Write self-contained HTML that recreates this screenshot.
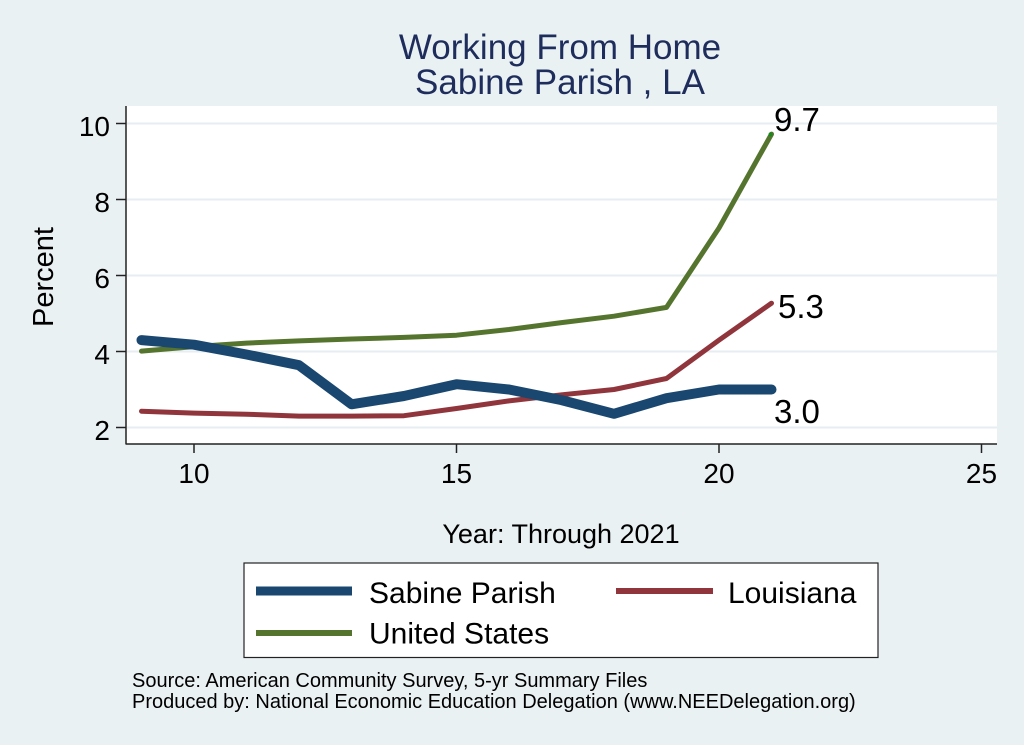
<!DOCTYPE html>
<html><head><meta charset="utf-8"><style>
html,body{margin:0;padding:0;background:#eaf1f3;}
svg{display:block;}
text{font-family:"Liberation Sans",Arial,sans-serif;}
</style></head><body>
<svg width="1024" height="745" viewBox="0 0 1024 745" xmlns="http://www.w3.org/2000/svg">
<rect x="0" y="0" width="1024" height="745" fill="#eaf1f3"/>
<!-- title -->
<text x="560" y="59" font-size="35" fill="#1e2d5c" text-anchor="middle">Working From Home</text>
<text x="560" y="94" font-size="35" fill="#1e2d5c" text-anchor="middle">Sabine Parish , LA</text>
<!-- plot region -->
<rect x="126" y="106" width="871" height="338" fill="#ffffff"/>
<g stroke="#e6eef1" stroke-width="2">
<line x1="127" y1="123.5" x2="997" y2="123.5"/>
<line x1="127" y1="199.5" x2="997" y2="199.5"/>
<line x1="127" y1="275.5" x2="997" y2="275.5"/>
<line x1="127" y1="351.5" x2="997" y2="351.5"/>
<line x1="127" y1="427.5" x2="997" y2="427.5"/>
</g>
<!-- axes -->
<g stroke="#222" stroke-width="1.5" fill="none">
<line x1="126" y1="106" x2="126" y2="444.5"/>
<line x1="126" y1="444" x2="997" y2="444"/>
<line x1="116" y1="123.5" x2="126" y2="123.5"/>
<line x1="116" y1="199.5" x2="126" y2="199.5"/>
<line x1="116" y1="275.5" x2="126" y2="275.5"/>
<line x1="116" y1="351.5" x2="126" y2="351.5"/>
<line x1="116" y1="427.5" x2="126" y2="427.5"/>
<line x1="194" y1="444" x2="194" y2="453"/>
<line x1="456.5" y1="444" x2="456.5" y2="453"/>
<line x1="719" y1="444" x2="719" y2="453"/>
<line x1="981.5" y1="444" x2="981.5" y2="453"/>
</g>
<g font-size="28" fill="#000" text-anchor="end">
<text x="110" y="136">10</text>
<text x="110" y="212">8</text>
<text x="110" y="288">6</text>
<text x="110" y="364">4</text>
<text x="110" y="440">2</text>
</g>
<g font-size="28" fill="#000" text-anchor="middle">
<text x="194" y="483">10</text>
<text x="456.5" y="483">15</text>
<text x="719" y="483">20</text>
<text x="981.5" y="483">25</text>
</g>
<text transform="translate(53,277) rotate(-90)" font-size="29" text-anchor="middle" fill="#000">Percent</text>
<text x="561" y="543" font-size="27" text-anchor="middle" fill="#000">Year: Through 2021</text>
<!-- series -->
<g fill="none" stroke-linecap="round" stroke-linejoin="round">
<polyline stroke="#90353b" stroke-width="5" points="141.5,411.2 194,413.1 246.5,414.2 299,416.1 351.5,416.1 404,415.7 456.5,408.5 509,400.9 561.5,394.8 614,389.5 666.5,378.5 719,340.1 771.5,303.2"/>
<polyline stroke="#55752f" stroke-width="5" points="141.5,351.1 194,346.6 246.5,343.1 299,340.9 351.5,339 404,337.4 456.5,335.2 509,329.5 561.5,322.6 614,316.2 666.5,307.4 719,228 771.5,134.1"/>
<polyline stroke="#1a476f" stroke-width="10" points="141.5,340.1 194,344.7 246.5,354.5 299,365.2 351.5,404.3 404,396 456.5,384.2 509,389.5 561.5,400.1 614,413.8 666.5,398.2 719,389.5 771.5,389.5"/>
</g>
<circle cx="770.5" cy="134.5" r="2" fill="#1a8a1a"/>
<g font-size="33" fill="#000">
<text x="774" y="131">9.7</text>
<text x="778" y="318">5.3</text>
<text x="774" y="423">3.0</text>
</g>
<!-- legend -->
<rect x="244" y="563" width="634" height="94.5" fill="#ffffff" stroke="#222" stroke-width="1.2"/>
<line x1="256" y1="591" x2="352" y2="591" stroke="#1a476f" stroke-width="9"/>
<line x1="616" y1="591" x2="713" y2="591" stroke="#90353b" stroke-width="6"/>
<line x1="256" y1="633" x2="352" y2="633" stroke="#55752f" stroke-width="6"/>
<g font-size="30" fill="#000">
<text x="369" y="603">Sabine Parish</text>
<text x="728" y="603">Louisiana</text>
<text x="369" y="643.5">United States</text>
</g>
<g font-size="20" fill="#000">
<text x="132" y="687">Source: American Community Survey, 5-yr Summary Files</text>
<text x="132" y="708">Produced by: National Economic Education Delegation (www.NEEDelegation.org)</text>
</g>
</svg>
</body></html>
